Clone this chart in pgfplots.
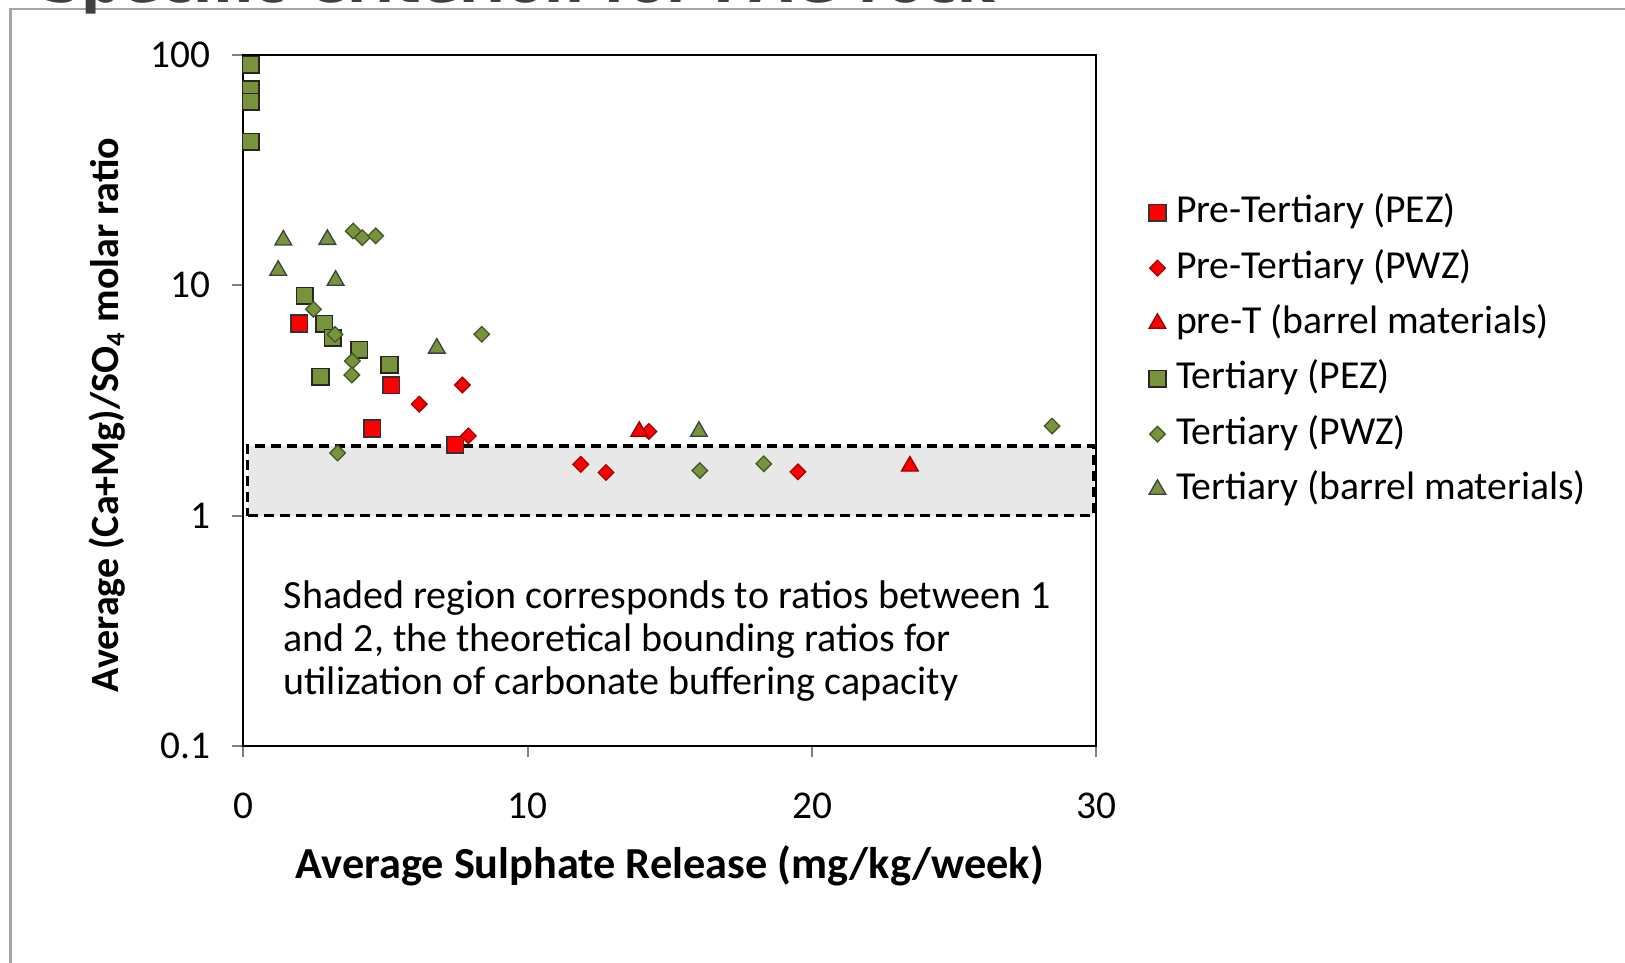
\documentclass[border=0pt]{standalone}
\usepackage{fontspec}
\setmainfont{Carlito}
\newfontfamily\titlefont{DejaVu Sans}
\usepackage{pgfplots}
\pgfplotsset{compat=1.18}
\definecolor{olive}{RGB}{119,147,60}
\definecolor{olivedark}{RGB}{70,88,35}
\definecolor{frame}{RGB}{165,165,165}
\definecolor{titlegray}{RGB}{64,64,64}
\definecolor{shade}{RGB}{232,232,232}
\begin{document}
\begin{tikzpicture}
\useasboundingbox (0,0) rectangle (487.5pt,288.9pt);
% outer frame and cut-off title
\draw[frame, line width=0.7pt] (3.1pt,-5pt) -- (3.1pt,286.1pt) -- (495pt,286.1pt);
\node[anchor=base west, inner sep=0pt, text=titlegray, font=\titlefont\bfseries\fontsize{16.8}{20}\selectfont] at (12.3pt,288.2pt) {Specific Criterion for PAG rock};
\begin{axis}[
  at={(73.05pt,65.07pt)}, anchor=south west,
  width=255.87pt, height=207.36pt, scale only axis,
  xmin=0, xmax=30, ymode=log, ymin=0.1, ymax=100,
  xtick={0,10,20,30}, xticklabels={0,10,20,30},
  ytick={0.1,1,10,100}, yticklabels={0.1,1,10,100},
  yminorticks=false,
  tick pos=left, tick align=outside, major tick length=3.3pt,
  tick style={draw=gray, line width=0.6pt},
  axis line style={black, line width=0.6pt},
  ticklabel style={font=\fontsize{11.8}{13}\selectfont},
  xticklabel style={yshift=-7.2pt},
  yticklabel style={xshift=-3.1pt},
  xlabel={Average Sulphate Release (mg/kg/week)},
  ylabel={Average (Ca+Mg)/SO\textsubscript{4} molar ratio},
  xlabel style={font=\bfseries\fontsize{13.3}{15}\selectfont, at={(rel axis cs:0.5,-0.1735)}, anchor=center},
  ylabel style={font=\bfseries\fontsize{12}{14}\selectfont, at={(rel axis cs:-0.160,0.479)}, anchor=center, rotate=0},
  legend cell align=left,
  legend image code/.code={\draw[mark repeat=2,mark phase=2,#1] plot coordinates {(0pt,0pt) (2.5pt,0pt) (5pt,0pt)};},
  legend style={draw=none, fill=none, inner sep=0pt, at={(rel axis cs:1.0610,0.799)}, anchor=north west,
    font=\fontsize{11.9}{13}\selectfont, row sep=5.6pt,
    nodes={inner xsep=3.08pt, inner ysep=0pt, text height=8.5pt, text depth=2.5pt}},
  clip=false,
]
% shaded region (behind markers)
\addplot[forget plot, draw=none, fill=shade] coordinates {(0.15,1) (29.9,1) (29.9,2.01) (0.15,2.01)} -- cycle;

\addplot[only marks, mark=square*, mark size=2.5pt, mark options={fill=red, draw=black!80, line width=0.5pt}]
 coordinates {(1.96,6.83) (5.19,3.69) (4.52,2.39) (7.44,2.03)};
\addlegendentry{Pre-Tertiary (PEZ)}
\addplot[only marks, mark=square*, mark size=1.65pt, mark options={rotate=45, fill=red, draw=red!65!black, line width=0.4pt}]
 coordinates {(6.18,3.05) (7.70,3.69) (7.91,2.22) (11.86,1.67) (12.75,1.54) (14.26,2.32) (19.50,1.55)};
\addlegendentry{Pre-Tertiary (PWZ)}
\addplot[only marks, mark=triangle*, mark size=2.9pt, mark options={fill=red, draw=red!60!black, line width=0.4pt}]
 coordinates {(13.92,2.32) (23.44,1.64)};
\addlegendentry{pre-T (barrel materials)}
\addplot[only marks, mark=square*, mark size=2.5pt, mark options={fill=olive, draw=black!85, line width=0.5pt}]
 coordinates {(0.26,90.4) (0.26,71.0) (0.26,62.6) (0.26,42.0) (2.16,9.01) (2.84,6.81) (3.14,5.92) (2.71,4.01) (4.07,5.24) (5.13,4.51)};
\addlegendentry{Tertiary (PEZ)}
\addplot[only marks, mark=square*, mark size=1.65pt, mark options={rotate=45, fill=olive, draw=olivedark, line width=0.4pt}]
 coordinates {(3.86,17.2) (4.18,16.1) (4.65,16.4) (2.46,7.87) (3.22,6.12) (8.38,6.13) (3.83,4.69) (3.81,4.08) (3.31,1.87) (16.05,1.57) (18.30,1.68) (28.44,2.45)};
\addlegendentry{Tertiary (PWZ)}
\addplot[only marks, mark=triangle*, mark size=2.9pt, mark options={fill=olive, draw=black!75, line width=0.4pt}]
 coordinates {(1.40,15.7) (2.95,15.8) (1.22,11.6) (3.24,10.5) (6.80,5.33) (16.02,2.32)};
\addlegendentry{Tertiary (barrel materials)}

% dashed border of shaded region
\addplot[forget plot, draw=black, line width=1pt, dash pattern=on 3pt off 1.8pt] coordinates {(0.15,1) (29.9,1) (29.9,2.01) (0.15,2.01)} -- cycle;

\node[anchor=base west, inner sep=0pt, align=left, font=\fontsize{12}{12.9}\selectfont] at (rel axis cs:0.0463,0.0752)
 {Shaded region corresponds to ratios between 1\\and 2, the theoretical bounding ratios for\\utilization of carbonate buffering capacity};
\end{axis}
\end{tikzpicture}
\end{document}
